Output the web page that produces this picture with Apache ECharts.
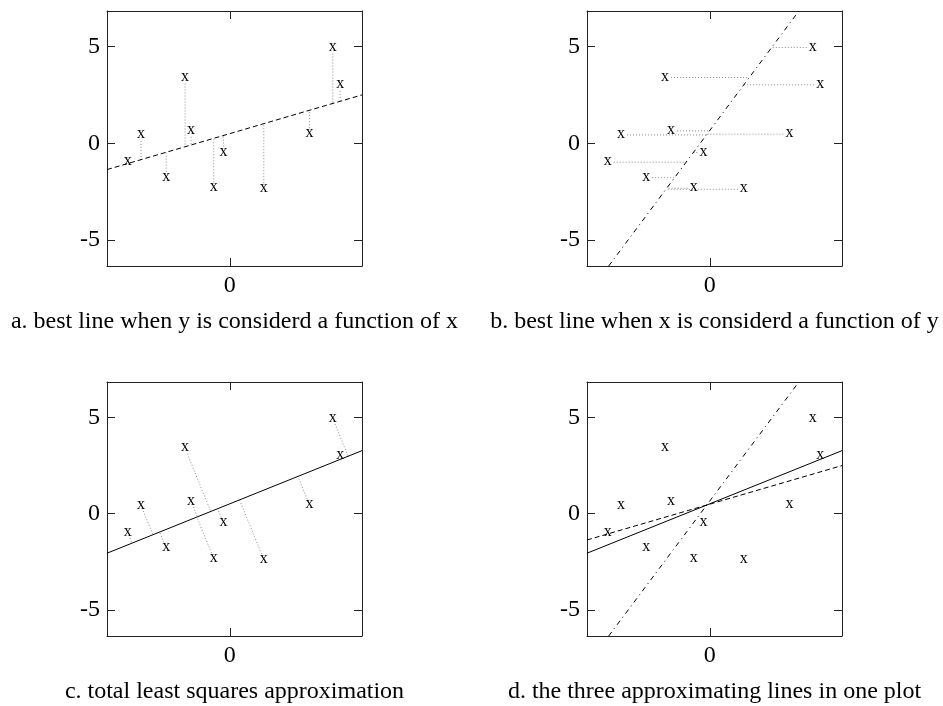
<!DOCTYPE html>
<html><head><meta charset="utf-8">
<script src="https://cdn.jsdelivr.net/npm/echarts@6/dist/echarts.min.js"></script>
<style>html,body{margin:0;padding:0;background:#fff}#c{width:943px;height:706px}</style>
</head><body><div id="c"></div>
<script>
// ---- data ----
const pointX = [-5.28, -4.59, -3.29, -2.31, -2.00, -0.83, -0.33, 1.76, 4.12, 5.33, 5.71];
const pointY = [-0.98, 0.43, -1.78, 3.40, 0.64, -2.33, -0.48, -2.38, 0.47, 4.95, 3.02];
const yTickValues = [-5, 0, 5];
const xTickValues = [0];
const yTickLabels = ['-5', '0', '5'];
const xTickLabels = ['0'];
const captions = [
  'a. best line when y is considerd a function of x',
  'b. best line when x is considerd a function of y',
  'c. total least squares approximation',
  'd. the three approximating lines in one plot'
];
const axisMin = -6.35, axisMax = 6.84;

// ---- least squares fits derived from the points ----
const n = pointX.length;
const mx = pointX.reduce((a, b) => a + b, 0) / n;
const my = pointY.reduce((a, b) => a + b, 0) / n;
let Sxx = 0, Sxy = 0, Syy = 0;
for (let i = 0; i < n; i++) {
  const dx = pointX[i] - mx, dy = pointY[i] - my;
  Sxx += dx * dx; Sxy += dx * dy; Syy += dy * dy;
}
const slopeYX = Sxy / Sxx;               // y = f(x)
const slopeXY = Sxy / Syy;               // x = g(y)
const slopeTLS = (Syy - Sxx + Math.sqrt((Syy - Sxx) ** 2 + 4 * Sxy * Sxy)) / (2 * Sxy);

const points = pointX.map((x, i) => [x, pointY[i]]);
const lineA = [[axisMin, my + slopeYX * (axisMin - mx)], [axisMax, my + slopeYX * (axisMax - mx)]];
const lineB = [[mx + slopeXY * (axisMin - my), axisMin], [mx + slopeXY * (axisMax - my), axisMax]];
const lineC = [[axisMin, my + slopeTLS * (axisMin - mx)], [axisMax, my + slopeTLS * (axisMax - mx)]];

const segA = points.map(([x, y]) => [x, y, x, my + slopeYX * (x - mx)]);
const segB = points.map(([x, y]) => [x, y, mx + slopeXY * (y - my), y]);
const ux = 1 / Math.sqrt(1 + slopeTLS * slopeTLS), uy = slopeTLS * ux;
const segC = points.map(([x, y]) => {
  const t = (x - mx) * ux + (y - my) * uy;
  return [x, y, mx + t * ux, my + t * uy];
});

// ---- styling ----
const FONT = 'Liberation Serif';
const AX = '#222';
const grids = [
  { left: 107, top: 11, width: 255, height: 255 },
  { left: 587, top: 11, width: 255, height: 255 },
  { left: 107, top: 382, width: 255, height: 254 },
  { left: 587, top: 382, width: 255, height: 254 }
];

const xAxis = [], yAxis = [];
grids.forEach((g, gi) => {
  const common = {
    gridIndex: gi, type: 'value', min: axisMin, max: axisMax,
    axisLine: { show: true, onZero: false, lineStyle: { color: AX, width: 1 } },
    splitLine: { show: false }
  };
  xAxis.push(Object.assign({}, common, {
    position: 'bottom',
    axisTick: { show: true, inside: true, length: 8, customValues: xTickValues, lineStyle: { color: AX } },
    axisLabel: { show: true, customValues: xTickValues, formatter: v => xTickLabels[xTickValues.indexOf(v)] ?? String(v),
      fontFamily: FONT, fontSize: 24, color: '#000', margin: 8 }
  }));
  xAxis.push(Object.assign({}, common, {
    position: 'top',
    axisTick: { show: true, inside: true, length: 8, customValues: xTickValues, lineStyle: { color: AX } },
    axisLabel: { show: false }
  }));
  yAxis.push(Object.assign({}, common, {
    position: 'left',
    axisTick: { show: true, inside: true, length: 8, customValues: yTickValues, lineStyle: { color: AX } },
    axisLabel: { show: true, customValues: yTickValues, formatter: v => yTickLabels[yTickValues.indexOf(v)] ?? String(v),
      fontFamily: FONT, fontSize: 24, color: '#000', margin: 7 }
  }));
  yAxis.push(Object.assign({}, common, {
    position: 'right',
    axisTick: { show: true, inside: true, length: 8, customValues: yTickValues, lineStyle: { color: AX } },
    axisLabel: { show: false }
  }));
});

function renderSeg(params, api) {
  const p = api.coord([api.value(0), api.value(1)]);
  const q = api.coord([api.value(2), api.value(3)]);
  const dx = q[0] - p[0], dy = q[1] - p[1];
  const L = Math.hypot(dx, dy);
  const gap = 6;
  if (L <= gap + 1) return null;
  return {
    type: 'line',
    shape: { x1: p[0] + dx / L * gap, y1: p[1] + dy / L * gap, x2: q[0], y2: q[1] },
    style: { stroke: '#8c8c8c', lineWidth: 1, lineDash: [1, 2] }
  };
}
function renderMark(params, api) {
  const p = api.coord([api.value(0), api.value(1)]);
  return {
    type: 'text', x: p[0], y: p[1] - 1,
    style: { text: 'x', fontFamily: FONT, fontSize: 16, fill: '#000', align: 'center', verticalAlign: 'middle' }
  };
}

const series = [];
function addMarks(gi) {
  series.push({ type: 'custom', xAxisIndex: 2 * gi, yAxisIndex: 2 * gi, data: points,
    encode: { x: 0, y: 1 }, renderItem: renderMark, silent: true, z: 5 });
}
function addSegs(gi, segs) {
  series.push({ type: 'custom', xAxisIndex: 2 * gi, yAxisIndex: 2 * gi, data: segs,
    encode: { x: [0, 2], y: [1, 3] }, renderItem: renderSeg, silent: true, z: 3 });
}
function addLine(gi, data, dash) {
  series.push({ type: 'line', xAxisIndex: 2 * gi, yAxisIndex: 2 * gi, data: data,
    showSymbol: false, symbol: 'none', clip: true, silent: true, animation: false, z: 4,
    lineStyle: { color: '#000', width: 1, type: dash } });
}
const dashA = [5, 3], dashB = [5, 4, 1, 4], solid = 'solid';
// a
addLine(0, lineA, dashA); addSegs(0, segA); addMarks(0);
// b
addLine(1, lineB, dashB); addSegs(1, segB); addMarks(1);
// c
addLine(2, lineC, solid); addSegs(2, segC); addMarks(2);
// d
addLine(3, lineA, dashA); addLine(3, lineB, dashB); addLine(3, lineC, solid); addMarks(3);

const captionPos = [[234.5, 322], [714.5, 322], [234.5, 692], [714.5, 692]];
const graphic = captions.map((t, i) => ({
  type: 'text', x: captionPos[i][0], y: captionPos[i][1],
  style: { text: t, fontFamily: FONT, fontSize: 24, fill: '#000', align: 'center', verticalAlign: 'middle' }
}));

const chart = echarts.init(document.getElementById('c'), null, { renderer: 'canvas' });
chart.setOption({
  animation: false,
  backgroundColor: '#fff',
  grid: grids,
  xAxis: xAxis,
  yAxis: yAxis,
  series: series,
  graphic: graphic
});
</script>
</body></html>
